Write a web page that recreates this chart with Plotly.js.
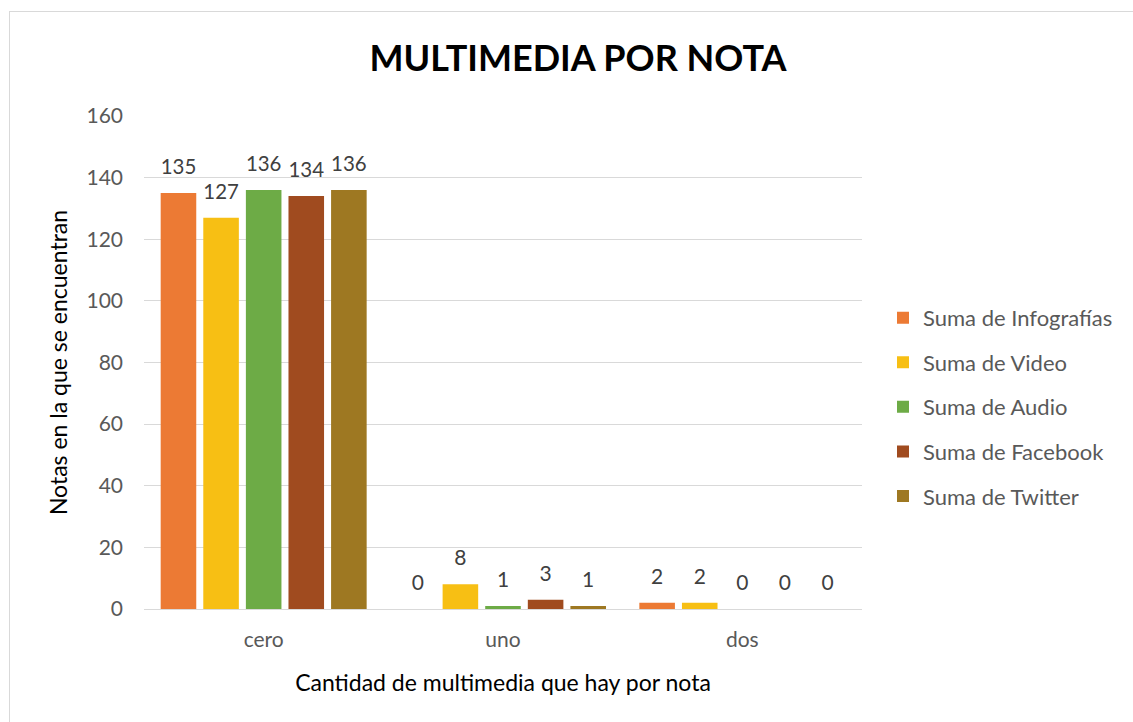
<!DOCTYPE html>
<html>
<head>
<meta charset="utf-8">
<script src="https://cdn.plot.ly/plotly-3.0.1.min.js"></script>
<style>
html,body{margin:0;padding:0;background:#fff;}
#chart{width:1133px;height:722px;}
#frame{position:absolute;left:9px;top:11px;width:1140px;height:720px;border:1px solid #d9d9d9;pointer-events:none;}
</style>
</head>
<body>
<div id="chart"></div>
<div id="frame"></div>
<script>
const categories = ["cero", "uno", "dos"];
const seriesNames = ["Suma de Infografías", "Suma de Video", "Suma de Audio", "Suma de Facebook", "Suma de Twitter"];
const infografias = [135, 0, 2];
const video = [127, 8, 2];
const audio = [136, 1, 0];
const facebook = [134, 3, 0];
const twitter = [136, 1, 0];
const yTicks = [0, 20, 40, 60, 80, 100, 120, 140, 160];

const seriesValues = [infografias, video, audio, facebook, twitter];
const colors = ["#EC7A34", "#F7BF14", "#6DAB46", "#A04B1F", "#9E7822"];
const FONT = "Lato, 'Open Sans', sans-serif";

// visible bars (no text)
const bars = seriesValues.map((vals, i) => ({
  type: "bar",
  name: seriesNames[i],
  x: categories,
  y: vals,
  marker: {color: colors[i], line: {width: 0}},
  legendgroup: "g" + i,
  hoverinfo: "x+y+name"
}));

// transparent twins on a slightly shifted overlay axis, carrying the data labels
const labels = seriesValues.map((vals, i) => ({
  type: "bar",
  name: seriesNames[i],
  x: categories,
  y: vals,
  yaxis: "y2",
  text: vals.map(String),
  textposition: "outside",
  textfont: {family: FONT, size: 21, color: "#404040"},
  cliponaxis: false,
  marker: {color: "rgba(0,0,0,0)", line: {width: 0}},
  showlegend: false,
  hoverinfo: "skip"
}));

const layout = {
  width: 1133, height: 722,
  paper_bgcolor: "#fff", plot_bgcolor: "#fff",
  margin: {l: 144, r: 271, t: 116, b: 113, autoexpand: false},
  barmode: "group",
  bargap: 0.11,
  bargroupgap: 0.165,
  font: {family: FONT, color: "#595959"},
  title: {
    text: "<b>MULTIMEDIA POR NOTA</b>",
    font: {family: FONT, size: 36, color: "#000"},
    x: 578/1133, xanchor: "center", xref: "container",
    y: 1 - 58/722, yanchor: "middle", yref: "container"
  },
  xaxis: {
    type: "category",
    tickfont: {family: FONT, size: 21, color: "#595959"},
    showline: true, linecolor: "#d9d9d9", linewidth: 1,
    ticks: "", ticklen: 0, ticklabelstandoff: 12,
    title: {text: "Cantidad de multimedia que hay por nota", font: {family: FONT, size: 23, color: "#000"}, standoff: 24}
  },
  yaxis: {
    range: [0, 160],
    tickvals: yTicks,
    ticktext: yTicks.map(String),
    tickfont: {family: FONT, size: 21, color: "#595959"},
    gridcolor: "#d9d9d9", gridwidth: 1,
    zeroline: false, showline: false,
    ticks: "", ticklabelstandoff: 20,
    title: {text: "Notas en la que se encuentran", font: {family: FONT, size: 23, color: "#000"}, standoff: 12}
  },
  yaxis2: {
    overlaying: "y",
    range: [-3.9, 156.1],
    visible: false,
    showgrid: false
  },
  legend: {
    x: (883 - 144) / 718, xanchor: "left", xref: "paper",
    y: 0.41, yanchor: "middle",
    font: {family: FONT, size: 22, color: "#595959"},
    traceorder: "grouped",
    tracegroupgap: 13,
    itemwidth: 30
  },
  showlegend: true
};

Plotly.newPlot("chart", bars.concat(labels), layout, {displayModeBar: false, staticPlot: true});
</script>
</body>
</html>
